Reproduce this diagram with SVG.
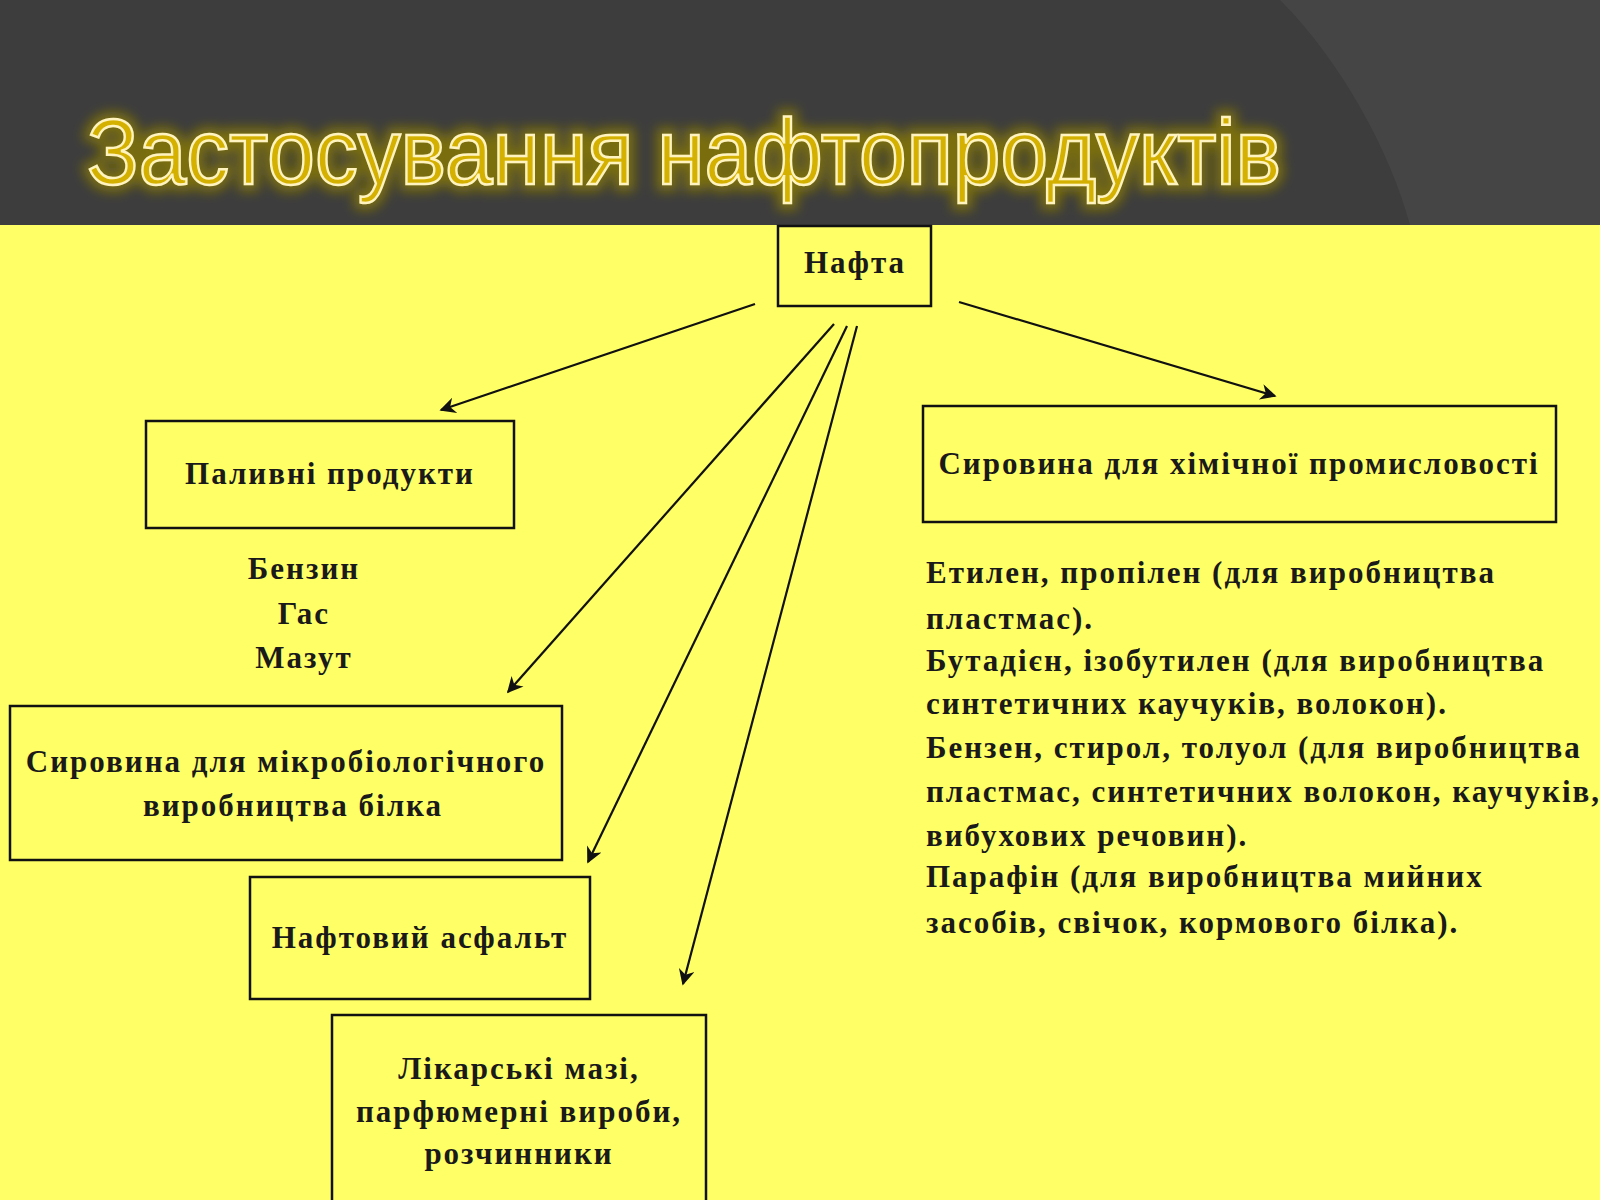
<svg xmlns="http://www.w3.org/2000/svg" width="1600" height="1200" viewBox="0 0 1600 1200">
<defs>
<style>
.b{fill:none;stroke:#111;stroke-width:2.5}
.t{font-family:"Liberation Serif",serif;font-weight:bold;font-size:31px;letter-spacing:2px;fill:#1a1a1a}
.c{text-anchor:middle}
.a{stroke:#111;stroke-width:2.2;fill:none}
</style>
<marker id="ah2" viewBox="0 0 10 10" refX="9" refY="5" markerWidth="22" markerHeight="16" orient="auto" markerUnits="userSpaceOnUse"><path d="M0,0 L10,5 L0,10 L3,5 Z" fill="#111"/></marker>
<filter id="glow" x="-5%" y="-30%" width="110%" height="160%"><feGaussianBlur stdDeviation="6"/></filter>
</defs>
<rect width="1600" height="1200" fill="#ffff66"/>
<rect width="1600" height="225" fill="#3d3d3d"/>
<path d="M1280,0 C1340,60 1390,150 1410,225 L1600,225 L1600,0 Z" fill="#454545"/>
<g id="title">
<text x="87" y="184" font-family="Liberation Sans,sans-serif" font-size="92" fill="#7a6e10" stroke="#7a6e10" stroke-width="14" filter="url(#glow)" textLength="1194" lengthAdjust="spacingAndGlyphs">Застосування нафтопродуктів</text>
<text x="87" y="184" font-family="Liberation Sans,sans-serif" font-size="92" fill="#d4b000" stroke="#fff4c0" stroke-width="2.5" textLength="1194" lengthAdjust="spacingAndGlyphs">Застосування нафтопродуктів</text>
</g>
<g id="connectors">
<line class="a" x1="755" y1="304" x2="441" y2="410" marker-end="url(#ah2)"/>
<line class="a" x1="959" y1="302" x2="1275" y2="396" marker-end="url(#ah2)"/>
<line class="a" x1="834" y1="324" x2="508" y2="692" marker-end="url(#ah2)"/>
<line class="a" x1="847" y1="326" x2="588" y2="862" marker-end="url(#ah2)"/>
<line class="a" x1="857" y1="326" x2="683" y2="984" marker-end="url(#ah2)"/>
</g>
<g id="n-nafta"><rect class="b" x="778" y="226" width="153" height="80"/><text class="t c" x="855" y="273">Нафта</text></g>
<g id="n-palyvni"><rect class="b" x="146" y="421" width="368" height="107"/><text class="t c" x="330" y="484">Паливні продукти</text></g>
<g id="n-palyvni-list"><text class="t c" x="304" y="579">Бензин</text><text class="t c" x="304" y="624">Гас</text><text class="t c" x="304" y="668">Мазут</text></g>
<g id="n-khim"><rect class="b" x="923" y="406" width="633" height="116"/><text class="t c" x="1239" y="474">Сировина для хімічної промисловості</text></g>
<g id="n-khim-list">
<text class="t" x="926" y="583">Етилен, пропілен (для виробництва</text>
<text class="t" x="926" y="629">пластмас).</text>
<text class="t" x="926" y="671">Бутадієн, ізобутилен (для виробництва</text>
<text class="t" x="926" y="714">синтетичних каучуків, волокон).</text>
<text class="t" x="926" y="758">Бензен, стирол, толуол (для виробництва</text>
<text class="t" x="926" y="802">пластмас, синтетичних волокон, каучуків,</text>
<text class="t" x="926" y="846">вибухових речовин).</text>
<text class="t" x="926" y="887">Парафін (для виробництва мийних</text>
<text class="t" x="926" y="933">засобів, свічок, кормового білка).</text>
</g>
<g id="n-mikro"><rect class="b" x="10" y="706" width="552" height="154"/><text class="t c" x="286" y="772">Сировина для мікробіологічного</text><text class="t c" x="293" y="816">виробництва білка</text></g>
<g id="n-asfalt"><rect class="b" x="250" y="877" width="340" height="122"/><text class="t c" x="420" y="948">Нафтовий асфальт</text></g>
<g id="n-liky"><rect class="b" x="332" y="1015" width="374" height="200"/><text class="t c" x="519" y="1079">Лікарські мазі,</text><text class="t c" x="519" y="1122">парфюмерні вироби,</text><text class="t c" x="519" y="1164">розчинники</text></g>
</svg>
